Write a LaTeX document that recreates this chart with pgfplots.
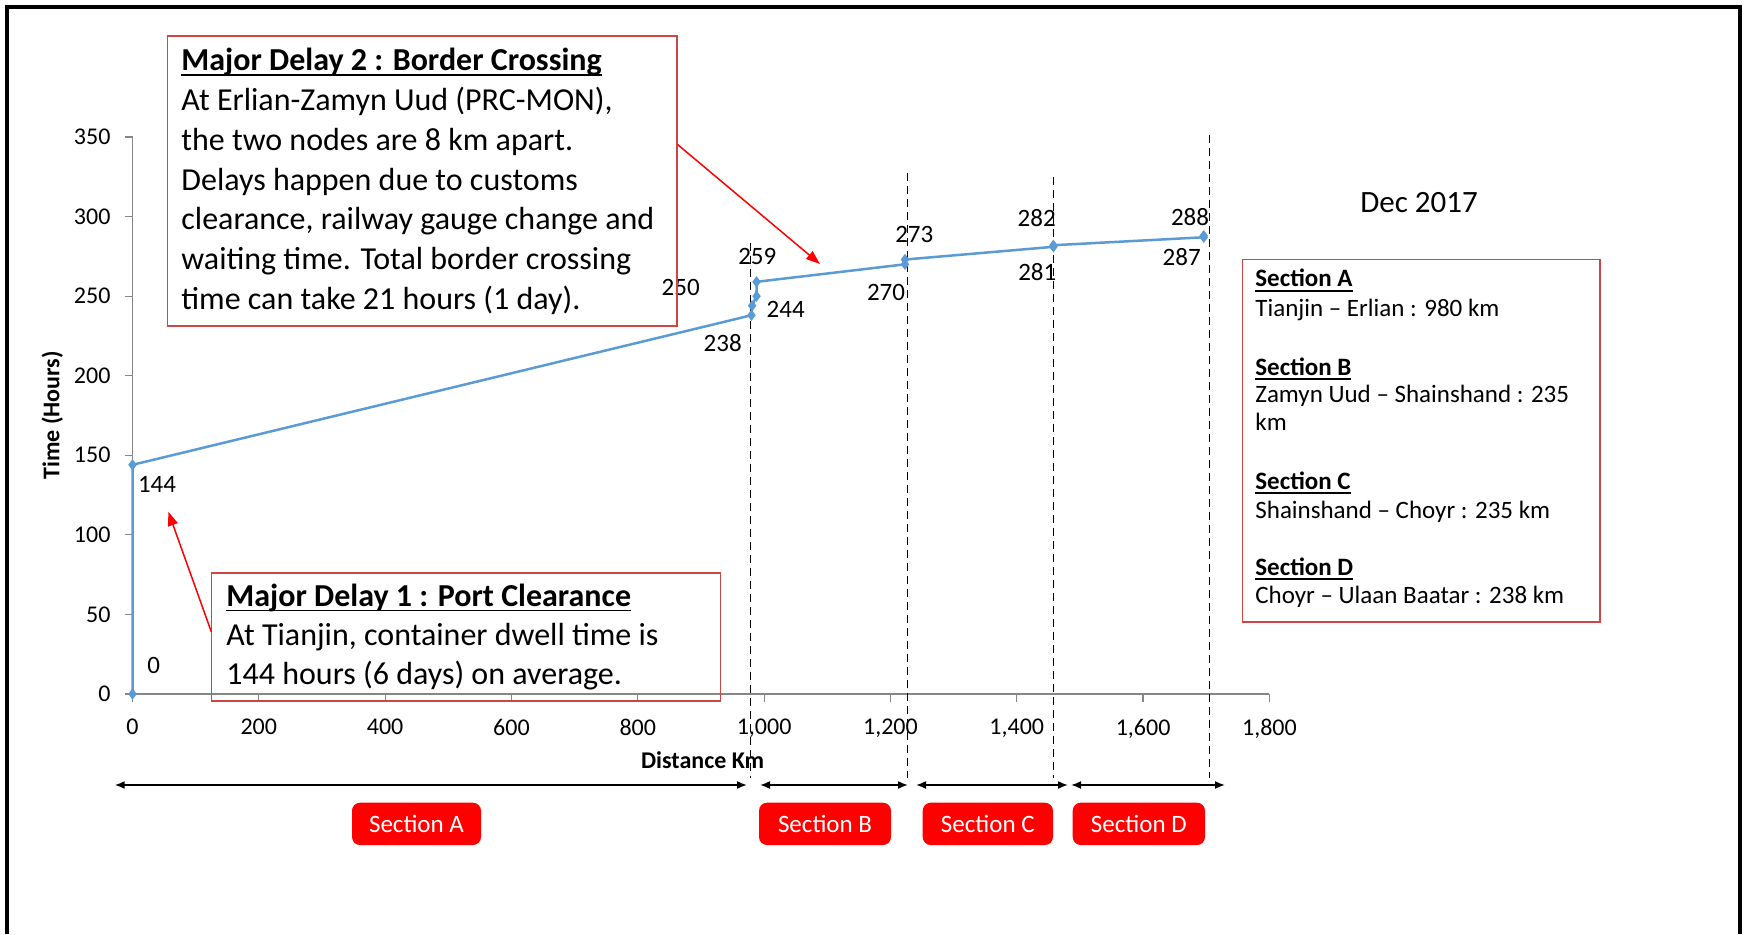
\documentclass[border=0pt]{standalone}
\usepackage{fontspec}
\setmainfont{Carlito}
\usepackage{pgfplots}
\pgfplotsset{compat=1.18}
\usetikzlibrary{arrows.meta}
\newsavebox{\ulbox}
\newcommand{\uline}[1]{\sbox{\ulbox}{#1}\rlap{\rule[-2.4pt]{\wd\ulbox}{0.9pt}}\usebox{\ulbox}}

\definecolor{lineblue}{RGB}{91,155,213}
\definecolor{boxred}{RGB}{205,70,70}
\definecolor{axisgrey}{RGB}{134,134,134}
\newcommand{\fs}[1]{\fontsize{#1}{#1}\selectfont}

\begin{document}
\begin{tikzpicture}
\begin{scope}[x=0.5pt,y=0.5pt]
\fill[white] (0,0) rectangle (1746,934);
\end{scope}
\begin{axis}[
  at={(66.25pt,120pt)}, anchor=south west, scale only axis,
  width=568.45pt, height=278.5pt,
  xmin=0,xmax=1800,ymin=0,ymax=350,
  axis x line*=bottom, axis y line*=left,
  axis line style={axisgrey, line width=0.6pt, -},
  xtick={0,200,...,1800}, ytick={0,50,...,350},
  tick align=outside, major tick length=4pt,
  tick style={axisgrey, line width=0.6pt},
  /pgf/number format/assume math mode=true,
  /pgf/number format/1000 sep={,},
  ticklabel style={font=\fs{12}},
  xticklabel style={yshift=-5pt},
  yticklabel style={xshift=-3.5pt},
  clip=false,
]
\addplot[black, line width=0.7pt, dash pattern=on 4pt off 2.5pt] coordinates {(978,283.6) (978,-52.8)};
\addplot[black, line width=0.7pt, dash pattern=on 4pt off 2.5pt] coordinates {(1227,327.6) (1227,-52.8)};
\addplot[black, line width=0.7pt, dash pattern=on 4pt off 2.5pt] coordinates {(1458,324.9) (1458,-52.8)};
\addplot[black, line width=0.7pt, dash pattern=on 4pt off 2.5pt] coordinates {(1705,351.3) (1705,-52.8)};
\addplot[lineblue, line width=1.25pt, mark=diamond*, mark size=1.8pt, mark options={solid, fill=lineblue}]
  coordinates {(0,0) (0,144) (980,238) (981,244) (988,250) (988,259) (1223,270) (1223,273) (1458,281) (1458,282) (1696,287) (1696,288)};
\node[font=\fs{12.5}] at (axis cs:33.6,17.7) {0};
\node[font=\fs{12.5}] at (axis cs:38.8,131.7) {144};
\node[font=\fs{12.5}] at (axis cs:934.4,220.4) {238};
\node[font=\fs{12.5}] at (axis cs:1034.2,241.7) {244};
\node[font=\fs{12.5}] at (axis cs:867.9,255.6) {250};
\node[font=\fs{12.5}] at (axis cs:989.2,274.8) {259};
\node[font=\fs{12.5}] at (axis cs:1193,252.2) {270};
\node[font=\fs{12.5}] at (axis cs:1237.8,288.8) {273};
\node[font=\fs{12.5}] at (axis cs:1432.5,265) {281};
\node[font=\fs{12.5}] at (axis cs:1431.5,299.3) {282};
\node[font=\fs{12.5}] at (axis cs:1661.2,274.8) {287};
\node[font=\fs{12.5}] at (axis cs:1674.3,299.9) {288};
\end{axis}
\begin{scope}[x=0.5pt,y=0.5pt]
% outer frame
\draw[line width=1.6pt] (7,0) -- (7,927) -- (1740,927) -- (1740,0);
% axis titles
\node[font=\bfseries\fs{12}, rotate=90] at (52.3,518.7) {Time (Hours)};
\node[font=\bfseries\fs{12}] at (702.6,173.5) {Distance Km};
% Box 2
\draw[boxred, line width=0.75pt] (167.5,608) rectangle (677,898.2);
\begin{scope}[every node/.style={anchor=base west, inner sep=0pt, font=\fs{16}}]
\node at (181,863.1) {\bfseries\uline{Major Delay 2 : Border Crossing}};
\node at (181,823.5) {At Erlian-Zamyn Uud (PRC-MON),};
\node at (181,783.5) {the two nodes are 8 km apart.};
\node at (181,743.9) {Delays happen due to customs};
\node at (181,704.3) {clearance, railway gauge change and};
\node at (181,664.3) {waiting time. Total border crossing};
\node at (181,624.3) {time can take 21 hours (1 day).};
% Box 1
\node at (226,327.5) {\bfseries\uline{Major Delay 1 : Port Clearance}};
\node at (226,288.8) {At Tianjin, container dwell time is};
\node at (226,250) {144 hours (6 days) on average.};
\end{scope}
\draw[boxred, line width=0.75pt] (211.4,233) rectangle (720.7,361);
% red arrows
\draw[red, line width=0.75pt, -{Triangle[length=7pt,width=5pt]}] (677.3,789.7) -- (820,670);
\draw[red, line width=0.75pt, -{Triangle[length=7pt,width=5pt]}] (211.4,302) -- (168.3,422.3);
% Section box
\draw[boxred, line width=0.75pt] (1242.7,312) rectangle (1600,674.7);
\begin{scope}[every node/.style={anchor=base west, inner sep=0pt, font=\fs{12.5}}]
\node at (1255,647.3) {\bfseries\uline{Section A}};
\node at (1255,618) {Tianjin -- Erlian : 980 km};
\node at (1255,559) {\bfseries\uline{Section B}};
\node at (1255,531.3) {Zamyn Uud -- Shainshand : 235};
\node at (1255,504) {km};
\node at (1255,445) {\bfseries\uline{Section C}};
\node at (1255,416) {Shainshand -- Choyr : 235 km};
\node at (1255,359) {\bfseries\uline{Section D}};
\node at (1255,331) {Choyr -- Ulaan Baatar : 238 km};
\end{scope}
\node[anchor=base, inner sep=0pt, font=\fs{15.5}] at (1419,721) {Dec 2017};
% section arrows
\begin{scope}[line width=0.8pt, {Latex[length=5pt,width=4pt]}-{Latex[length=5pt,width=4pt]}]
\draw (114.7,149) -- (747,149);
\draw (760,149) -- (908,149);
\draw (916,149) -- (1068,149);
\draw (1071,149) -- (1225,149);
\end{scope}
% red buttons
\fill[red, rounded corners=4pt] (352,89) rectangle (481,131.3);
\fill[red, rounded corners=4pt] (759,89) rectangle (891,131.3);
\fill[red, rounded corners=4pt] (922.7,89) rectangle (1053,131.3);
\fill[red, rounded corners=4pt] (1072.7,89) rectangle (1205,131.3);
\begin{scope}[every node/.style={white, font=\fs{12.5}, inner sep=0pt}]
\node at (416.5,110.5) {Section A};
\node at (825,110.5) {Section B};
\node at (987.8,110.5) {Section C};
\node at (1138.8,110.5) {Section D};
\end{scope}
\pgfresetboundingbox
\useasboundingbox (0,0) rectangle (1746,934);
\end{scope}
\end{tikzpicture}
\end{document}
